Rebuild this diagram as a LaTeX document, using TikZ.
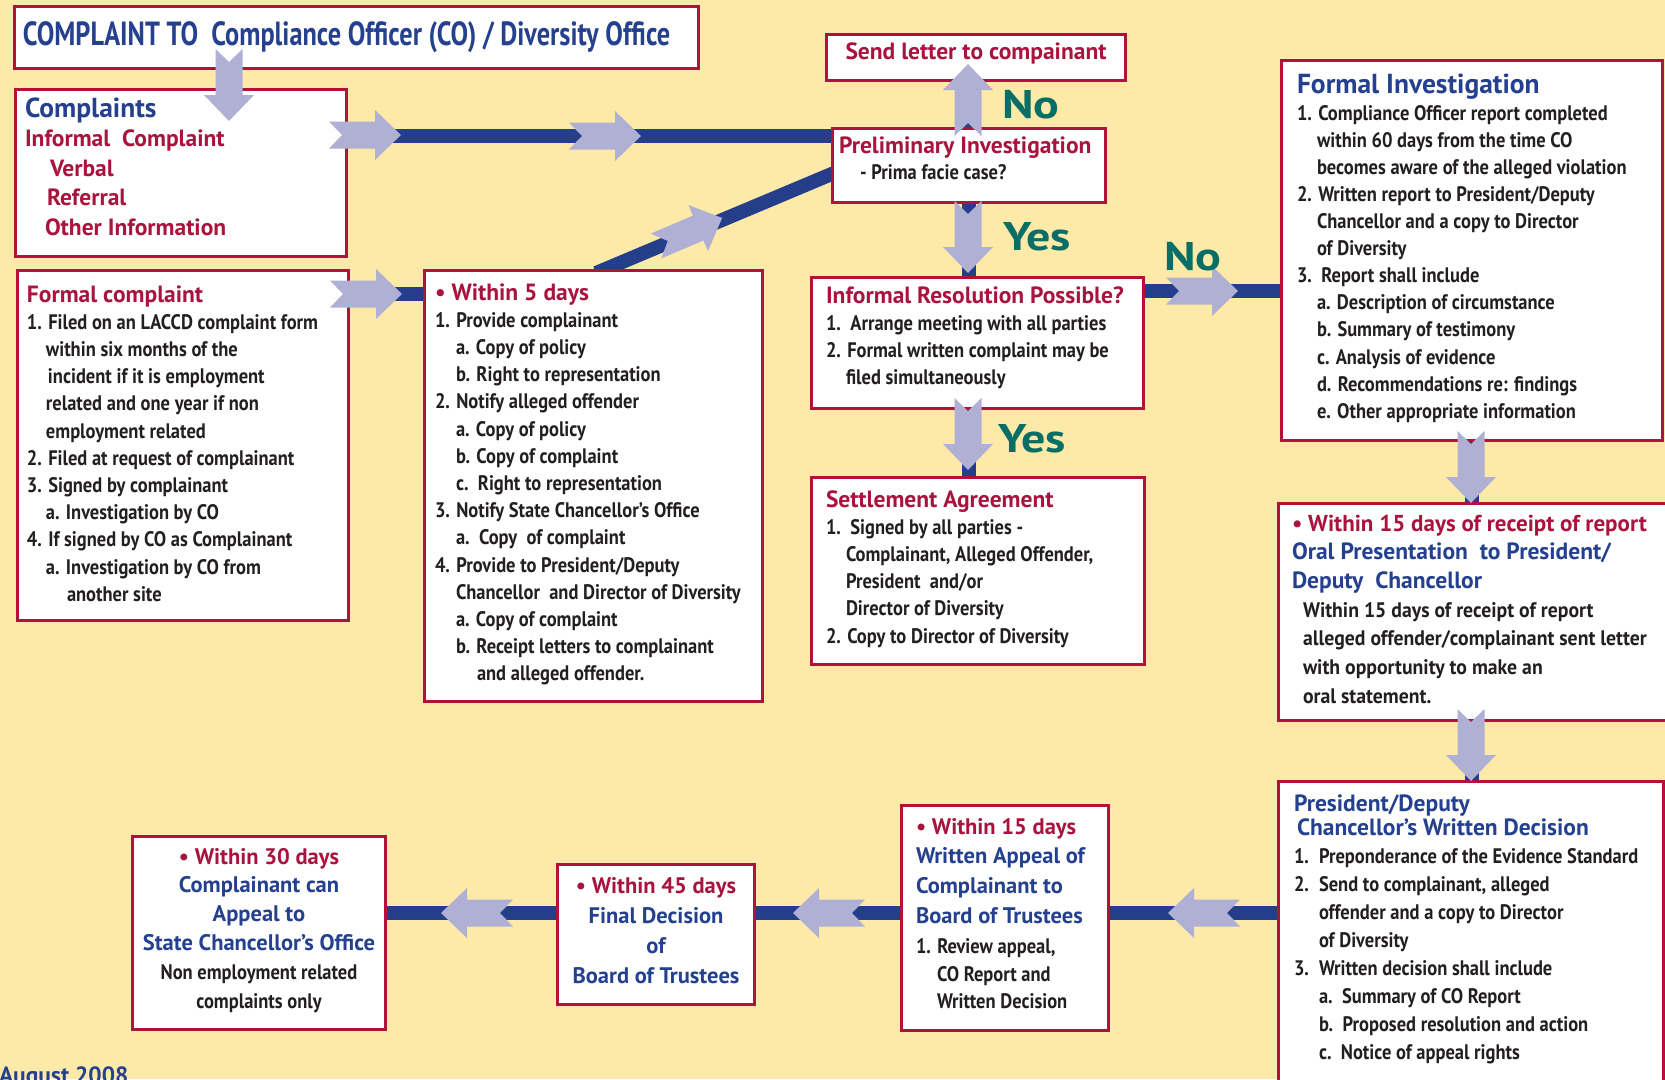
\documentclass[tikz,border=0pt]{standalone}
\usepackage{fontspec}
\setmainfont{PT Sans}[FakeStretch=0.88]
\newfontfamily\fA{PT Sans}[FakeStretch=0.88]
\newfontfamily\fC{PT Sans}
\newfontfamily\fD{PT Sans}[FakeStretch=0.94]
\newfontfamily\fT{PT Sans}[FakeStretch=0.785]
\newfontfamily\fY{PT Sans}[FakeStretch=1.2]
\usetikzlibrary{calc}

\definecolor{bgcol}{RGB}{254,234,168}
\definecolor{boxred}{RGB}{176,18,58}
\definecolor{txtred}{RGB}{168,20,62}
\definecolor{txtblue}{RGB}{36,64,142}
\definecolor{linecol}{RGB}{36,62,140}
\definecolor{arrowfill}{RGB}{175,176,212}
\definecolor{ynteal}{RGB}{8,110,102}
\definecolor{ink}{RGB}{35,31,32}

% font helpers
\newcommand\fsz[2]{\fontsize{#1pt}{#2pt}\selectfont}
\newcommand\bodyf{\fA\fsz{21}{27}\color{ink}}
\newcommand\redhd{\fC\bfseries\fsz{23.5}{27}\color{txtred}}
\newcommand\bluehd{\fC\bfseries\fsz{23.5}{27}\color{txtblue}}
\newcommand\redsm{\fC\bfseries\fsz{22.5}{27}\color{txtred}}
\newcommand\bluesm{\fC\bfseries\fsz{22.5}{27}\color{txtblue}}
\newcommand\bluebig{\fC\bfseries\fsz{27.5}{27}\color{txtblue}}
\newcommand\oralred{\fC\bfseries\fsz{23}{27}\color{txtred}}
\newcommand\oralbody{\fD\fsz{21}{27}\color{ink}}
% top-aligned text blocks with a fixed line pitch; the first line carries the baseline
\newcommand\tblock[3]{\parbox[t]{#1}{\leavevmode\lineskiplimit=-100pt\relax #3\setlength\baselineskip{#2}}}
\makeatletter
\newcommand\cblock[3]{\parbox[t]{#1}{\centering
  \def\\{\setlength\baselineskip{#2}\@centercr}%
  \leavevmode\lineskiplimit=-100pt\relax #3\setlength\baselineskip{#2}}}
\makeatother

\pgfdeclarelayer{bg}
\pgfdeclarelayer{lines}
\pgfsetlayers{bg,lines,main}

\begin{document}
\begin{tikzpicture}[x=1pt,y=-1pt,
  box/.style={draw=boxred, line width=3pt, fill=white, inner sep=0pt, anchor=north west},
  txt/.style={inner sep=0pt, outer sep=0pt, anchor=base west},
  ctxt/.style={inner sep=0pt, outer sep=0pt, anchor=base},
  conn/.style={draw=linecol, line width=14pt},
  yn/.style={inner sep=0pt, anchor=base, text=ynteal, font=\fY\bfseries\fsz{40}{40}},
  chev/.pic={\fill[arrowfill] (-36,-13.5) -- (10,-13.5) -- (10,-25) -- (36,0)
      -- (10,25) -- (10,13.5) -- (-36,13.5) -- (-23,0) -- cycle;}
]
\useasboundingbox (0,0) rectangle (1665,1079);
\clip (0,0) rectangle (1665,1079);
\begin{pgfonlayer}{bg}
  \fill[bgcol] (0,0) rectangle (1665,1079);
\end{pgfonlayer}

% ---------- boxes ----------
\node[box, minimum width=684pt, minimum height=62pt]  (title) at (13,5) {};
\node[box, minimum width=331pt, minimum height=167pt] (cmp)   at (14,88) {};
\node[box, minimum width=331pt, minimum height=350pt] (fc)    at (16,269) {};
\node[box, minimum width=338pt, minimum height=431pt] (w5)    at (423,269) {};
\node[box, minimum width=299pt, minimum height=46pt]  (sl)    at (825,33) {};
\node[box, minimum width=273pt, minimum height=74pt]  (pi)    at (831,127) {};
\node[box, minimum width=332pt, minimum height=131pt] (ir)    at (810,276) {};
\node[box, minimum width=333pt, minimum height=187pt] (sa)    at (810,476) {};
\node[box, minimum width=381pt, minimum height=380pt] (fi)    at (1280,59) {};
\node[box, minimum width=389pt, minimum height=217pt] (w15)   at (1277,502) {};
\node[box, minimum width=385pt, minimum height=310pt] (pd)    at (1277,780) {};
\node[box, minimum width=207pt, minimum height=225pt] (ap)    at (900,804) {};
\node[box, minimum width=197pt, minimum height=140pt] (f45)   at (556,863) {};
\node[box, minimum width=253pt, minimum height=193pt] (w30)   at (131,835) {};

% ---------- connectors, under the boxes ----------
\begin{pgfonlayer}{lines}
  \draw[conn] (cmp.east |- 0,136) -- (pi.west |- 0,136);
  \draw[conn] (fc.east |- 0,294) -- (w5.west |- 0,294);
  \draw[conn] ($(w5.north west)+(173,4)$) -- ($(pi.west)+(9,5)$);
  \draw[conn] (pi.north) -- (pi.north |- sl.south);
  \draw[conn] (pi.south) -- (pi.south |- ir.north);
  \draw[conn] (ir.east |- 0,291) -- (fi.west |- 0,291);
  \draw[conn] (ir.south -| pi.south) -- (sa.north -| pi.south);
  \draw[conn] (fi.south) -- (fi.south |- w15.north);
  \draw[conn] (w15.south -| fi.south) -- (pd.north -| fi.south);
  \draw[conn] (pd.west |- 0,913) -- (ap.east |- 0,913);
  \draw[conn] (ap.west |- 0,913) -- (f45.east |- 0,913);
  \draw[conn] (f45.west |- 0,913) -- (w30.east |- 0,913);
\end{pgfonlayer}

% ---------- block arrows on the connectors ----------
\pic[rotate=-90] at (229,85) {chev};
\pic at (365,135) {chev};
\pic at (605,136) {chev};
\pic at (366,294) {chev};
\pic[rotate=23] at (689,232) {chev};
\pic[rotate=90] at (968,100) {chev};
\pic[rotate=-90] at (968,237) {chev};
\pic at (1202,291) {chev};
\pic[rotate=-90] at (968,434) {chev};
\pic[rotate=-90] at (1471,467) {chev};
\pic[rotate=-90] at (1471,745) {chev};
\pic[rotate=180] at (1204,913) {chev};
\pic[rotate=180] at (829,913) {chev};
\pic[rotate=180] at (477,913) {chev};

% ---------- decision labels ----------
\node[yn] (no1)  at (1031,118) {No};
\node[yn] (yes1) at (1037,250) {Yes};
\node[yn] (no2)  at (1193,270) {No};
\node[yn] (yes2) at (1032,452) {Yes};

% ---------- box texts ----------
\node[txt] (title-t) at (23,45) {\fT\bfseries\fsz{33.5}{33.5}\color{txtblue}COMPLAINT TO\ \ Compliance Officer (CO) / Diversity Office};

\node[txt] (cmp-t) at (25,117) {\tblock{315pt}{29.6pt}{\fC\bfseries\fsz{27.5}{27}\color{txtblue}Complaints\\
  \redhd Informal\ \ Complaint\\
  \hspace*{25pt}Verbal\\
  \hspace*{22pt}Referral\\
  \hspace*{20pt}Other Information}};

\node[txt] (fc-t) at (27,302) {\tblock{315pt}{27.2pt}{\redhd Formal complaint\\
  \bodyf 1. Filed on an LACCD complaint form\\
  \hspace*{19pt}within six months of the\\
  \hspace*{21pt}incident if it is employment\\
  \hspace*{19pt}related and one year if non\\
  \hspace*{19pt}employment related\\
  2. Filed at request of complainant\\
  3. Signed by complainant\\
  \hspace*{19pt}a. Investigation by CO\\
  4. If signed by CO as Complainant\\
  \hspace*{19pt}a. Investigation by CO from\\
  \hspace*{40pt}another site}};

\node[txt] (w5-t) at (435,300) {\tblock{320pt}{27.2pt}{\redhd • Within 5 days\\
  \bodyf 1. Provide complainant\\
  \hspace*{21pt}a. Copy of policy\\
  \hspace*{21pt}b. Right to representation\\
  2. Notify alleged offender\\
  \hspace*{21pt}a. Copy of policy\\
  \hspace*{21pt}b. Copy of complaint\\
  \hspace*{21pt}c.\ \ Right to representation\\
  3. Notify State Chancellor’s Office\\
  \hspace*{21pt}a.\ \ Copy\ \ of complaint\\
  4. Provide to President/Deputy\\
  \hspace*{21pt}Chancellor\ \ and Director of Diversity\\
  \hspace*{21pt}a. Copy of complaint\\
  \hspace*{21pt}b. Receipt letters to complainant\\
  \hspace*{42pt}and alleged offender.}};

\node[ctxt] (sl-t) at (sl.center |- 0,59) {\redhd Send letter to compainant};

\node[txt] (pi-t) at (839,153) {\tblock{265pt}{26pt}{\redhd Preliminary Investigation\\
  \bodyf\hspace*{21pt}- Prima facie case?}};

\node[txt] (ir-t) at (826,303) {\tblock{315pt}{27.2pt}{\redhd Informal Resolution Possible?\\
  \bodyf 1.\ \ Arrange meeting with all parties\\
  2. Formal written complaint may be\\
  \hspace*{20pt}filed simultaneously}};

\node[txt] (sa-t) at (826,507) {\tblock{315pt}{27.2pt}{\redhd Settlement Agreement\\
  \bodyf 1.\ \ Signed by all parties -\\
  \hspace*{20pt}Complainant, Alleged Offender,\\
  \hspace*{20pt}President\ \ and/or\\
  \hspace*{20pt}Director of Diversity\\
  2. Copy to Director of Diversity}};

\node[txt] (fi-t) at (1297,93) {\tblock{360pt}{27.1pt}{\bluebig Formal Investigation\\
  \bodyf 1. Compliance Officer report completed\\
  \hspace*{20pt}within 60 days from the time CO\\
  \hspace*{20pt}becomes aware of the alleged violation\\
  2. Written report to President/Deputy\\
  \hspace*{20pt}Chancellor and a copy to Director\\
  \hspace*{20pt}of Diversity\\
  3.\ \ Report shall include\\
  \hspace*{20pt}a. Description of circumstance\\
  \hspace*{20pt}b. Summary of testimony\\
  \hspace*{20pt}c. Analysis of evidence\\
  \hspace*{20pt}d. Recommendations re: findings\\
  \hspace*{20pt}e. Other appropriate information}};

\node[txt] (w15-t) at (1292,531) {\tblock{370pt}{28.7pt}{\oralred • Within 15 days of receipt of report\\
  \bluehd Oral Presentation\ \ to President/\\
  Deputy\ \ Chancellor\\
  \oralbody\hspace*{11pt}Within 15 days of receipt of report\\
  \hspace*{11pt}alleged offender/complainant sent letter\\
  \hspace*{11pt}with opportunity to make an\\
  \hspace*{11pt}oral statement.}};

\node[txt] (pd-t) at (1294,811) {\tblock{365pt}{27.9pt}{\bluehd President/Deputy\\[-3pt]
  \hspace*{3pt}Chancellor’s Written Decision\\
  \bodyf 1.\hspace*{10pt}Preponderance of the Evidence Standard\\
  2.\hspace*{10pt}Send to complainant, alleged\\
  \hspace*{25pt}offender and a copy to Director\\
  \hspace*{25pt}of Diversity\\
  3.\hspace*{10pt}Written decision shall include\\
  \hspace*{25pt}a.\ \ Summary of CO Report\\
  \hspace*{25pt}b.\ \ Proposed resolution and action\\
  \hspace*{25pt}c.\ \ Notice of appeal rights}};

\node[txt] (ap-t) at (916,834) {\tblock{190pt}{29.9pt}{\redsm • Within 15 days\\
  \bluesm Written Appeal of\\
  Complainant to\\
  Board of Trustees\\
  \bodyf 1. Review appeal,\\[-2.4pt]
  \hspace*{21pt}CO Report and\\[-2.4pt]
  \hspace*{21pt}Written Decision}};

\node[ctxt] (f45-t) at (f45.center |- 0,893) {\cblock{195pt}{30.3pt}{\redsm • Within 45 days\\
  \bluesm Final Decision\\
  of\\
  Board of Trustees}};

\node[ctxt] (w30-t) at (w30.center |- 0,864) {\cblock{250pt}{28.8pt}{\redsm • Within 30 days\\
  \bluesm Complainant can\\
  Appeal to\\
  State Chancellor’s Office\\
  \bodyf Non employment related\\
  complaints only}};

\node[txt] (aug) at (-1,1083) {\fC\bfseries\fsz{23.5}{23.5}\color{txtblue}August 2008};
\end{tikzpicture}
\end{document}
